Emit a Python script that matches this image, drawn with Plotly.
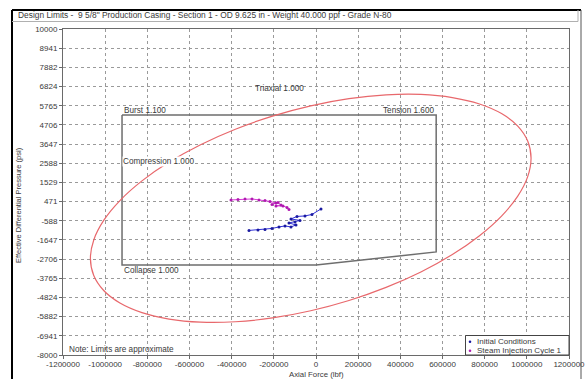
import plotly.graph_objects as go

# ---------------- data ----------------
x_ticks = [-1200000, -1000000, -800000, -600000, -400000, -200000, 0,
           200000, 400000, 600000, 800000, 1000000, 1200000]
y_tick_labels = ["-8000", "-6941", "-5882", "-4824", "-3765", "-2706", "-1647", "-588",
                 "471", "1529", "2588", "3647", "4706", "5765", "6824", "7882", "8941", "10000"]

# Triaxial 1.000 envelope
triax_x = [1020000, 1004100, 957000, 880000, 775500, 646700, 497500, 332400, 156400, -25000,
           -206400, -382400, -547500, -696700, -825500, -930000, -1007000, -1054100, -1070000,
           -1054100, -1007000, -930000, -825500, -696700, -547500, -382400, -206400, -25000,
           156400, 332400, 497500, 646700, 775500, 880000, 957000, 1004100, 1020000]
triax_y = [2871, 1847, 770, -328, -1413, -2452, -3413, -4268, -4990, -5557,
           -5953, -6164, -6186, -6015, -5660, -5129, -4440, -3612, -2671,
           -1647, -570, 528, 1613, 2652, 3613, 4468, 5190, 5757,
           6153, 6364, 6386, 6215, 5860, 5329, 4640, 3812, 2871]

# Design limit box: Burst / Tension / Collapse / Compression
limit_x = [-920000, 570000, 570000, 0, -920000, -920000]
limit_y = [5250, 5250, -2310, -3030, -3030, 5250]

# Load cases
init_x = [-317900, -275200, -242000, -208800, -175600, -147100, -118700, -95000,
          -128100, -99600, -76000, -118700, -90200, -52300, -19100, 23600]
init_y = [-1123, -1095, -1068, -1012, -930, -874, -930, -819,
          -709, -654, -571, -488, -350, -322, -240, 64]

steam_x = [-403200, -370000, -336800, -303600, -270400, -242000, -218300, -189800,
           -208800, -180300, -166100, -189800, -156500, -137500, -128100]
steam_y = [561, 589, 616, 616, 561, 534, 478, 395,
           312, 423, 285, 230, 230, 147, 37]

title_text = 'Design Limits -  9 5/8" Production Casing - Section 1 - OD 9.625 in - Weight 40.000 ppf - Grade N-80'
series_names = ["Initial Conditions", "Steam Injection Cycle 1"]

# ---------------- figure ----------------
FONT = "Liberation Sans, Arial, sans-serif"
TXT = "#3a3a3a"
BLUE = "#3030d8"
MAG = "#d63cd6"

fig = go.Figure()
fig.add_trace(go.Scatter(x=limit_x, y=limit_y, mode="lines",
                         line=dict(color="#6e6e6e", width=1.5), showlegend=False, hoverinfo="skip"))
fig.add_trace(go.Scatter(x=triax_x, y=triax_y, mode="lines", line_shape="spline",
                         line=dict(color="#e8686c", width=1.2), showlegend=False, hoverinfo="skip"))
fig.add_trace(go.Scatter(x=init_x, y=init_y, mode="lines+markers", name=series_names[0],
                         line=dict(color=BLUE, width=1), marker=dict(size=3, color="#1a1aa0"),
                         showlegend=False))
fig.add_trace(go.Scatter(x=steam_x, y=steam_y, mode="lines+markers", name=series_names[1],
                         line=dict(color=MAG, width=1), marker=dict(size=3, color="#b01ab0"),
                         showlegend=False))

W, H = 588, 379
L, R, T, B = 63, 569, 29, 355


def px(x):
    return (x - L) / (R - L)


def py(y):
    return (B - y) / (B - T)


annots = []
def note(text, x, y, xanchor="left", size=8.2, **kw):
    annots.append(dict(text=text, x=x, y=y, xref="x", yref="y", xanchor=xanchor, yanchor="middle",
                       showarrow=False, font=dict(family=FONT, size=size, color=TXT), **kw))

note("Burst 1.100", -920000, 5500)
note("Tension 1.600", 570000, 5500, xanchor="right")
note("Compression 1.000", -920000, 2700, bgcolor="white", borderpad=0)
note("Collapse 1.000", -920000, -3330)
note("Triaxial 1.000", -300000, 6700)
note("Note: Limits are approximate", -1181000, -7720)

# paper-level texts
annots.append(dict(text=title_text, x=px(16), y=py(15.5), xref="paper", yref="paper",
                   xanchor="left", yanchor="middle", showarrow=False,
                   font=dict(family=FONT, size=8.4, color=TXT)))
annots.append(dict(text="Axial Force (lbf)", x=px(316), y=py(374.5), xref="paper", yref="paper",
                   xanchor="center", yanchor="middle", showarrow=False,
                   font=dict(family=FONT, size=7.8, color=TXT)))
annots.append(dict(text="Effective Differential Pressure (psi)", x=px(18), y=py(205),
                   xref="paper", yref="paper", xanchor="center", yanchor="middle",
                   textangle=-90, showarrow=False, font=dict(family=FONT, size=7.5, color=TXT)))
# legend texts
annots.append(dict(text=series_names[0], x=px(475), y=py(341.7), xref="paper", yref="paper",
                   xanchor="left", yanchor="middle", showarrow=False,
                   font=dict(family=FONT, size=8, color=TXT)))
annots.append(dict(text=series_names[1], x=px(475), y=py(350.7), xref="paper", yref="paper",
                   xanchor="left", yanchor="middle", showarrow=False,
                   font=dict(family=FONT, size=8, color=TXT)))

shapes = [
    # outer frame
    dict(type="line", xref="paper", yref="paper", x0=px(12), x1=px(581), y0=py(10), y1=py(10),
         line=dict(color="black", width=2)),
    dict(type="line", xref="paper", yref="paper", x0=px(12), x1=px(12), y0=py(10), y1=py(380),
         line=dict(color="black", width=2)),
    dict(type="line", xref="paper", yref="paper", x0=px(581), x1=px(581), y0=py(10), y1=py(380),
         line=dict(color="#555555", width=1)),
    # title box bottom
    dict(type="line", xref="paper", yref="paper", x0=px(12), x1=px(578), y0=py(21.5), y1=py(21.5),
         line=dict(color="#b0b0b0", width=1)),
    dict(type="line", xref="paper", yref="paper", x0=px(578), x1=px(578), y0=py(10), y1=py(21.5),
         line=dict(color="#b0b0b0", width=1)),
    # legend box
    dict(type="rect", xref="paper", yref="paper", x0=px(465.5), x1=1, y0=0, y1=py(335.5),
         line=dict(color="#444444", width=1), fillcolor="white"),
    dict(type="circle", xref="paper", yref="paper", x0=px(468.7), x1=px(471.3),
         y0=py(343), y1=py(340.4), line=dict(width=0), fillcolor="#1a1aa0"),
    dict(type="circle", xref="paper", yref="paper", x0=px(468.7), x1=px(471.3),
         y0=py(352), y1=py(349.4), line=dict(width=0), fillcolor="#b01ab0"),
]

axis_common = dict(showline=True, linecolor="#6a6a6a", linewidth=1, mirror=True,
                   ticks="outside", ticklen=3, tickcolor="#6a6a6a", automargin=False,
                   showgrid=True, gridcolor="#9a9a9a", griddash="dot", gridwidth=1,
                   zeroline=False, tickfont=dict(family=FONT, size=8, color=TXT))

fig.update_layout(
    width=W, height=H,
    margin=dict(l=L, r=W - R, t=T, b=H - B, pad=0),
    paper_bgcolor="white", plot_bgcolor="white",
    showlegend=False,
    xaxis=dict(range=[x_ticks[0], x_ticks[-1]], tickvals=x_ticks,
               ticktext=[str(v) for v in x_ticks], ticklabelstandoff=-2, **axis_common),
    yaxis=dict(range=[float(y_tick_labels[0]), float(y_tick_labels[-1])],
               tickvals=[float(s) for s in y_tick_labels], ticktext=y_tick_labels, **axis_common),
    annotations=annots,
    shapes=shapes,
)

fig.write_html("out.html", config={"displayModeBar": False},
               post_script="document.body.style.margin='0';document.body.style.overflow='hidden';")
